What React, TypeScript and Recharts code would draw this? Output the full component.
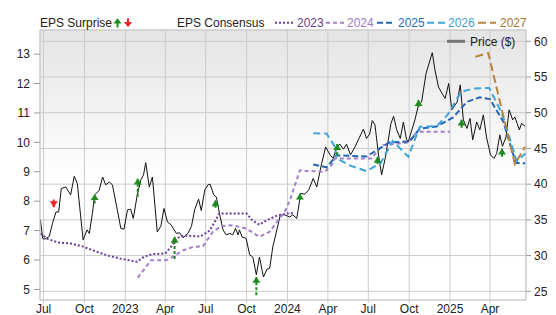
import {
  CartesianGrid,
  ComposedChart,
  Line,
  ReferenceLine,
  Scatter,
  XAxis,
  YAxis,
} from "recharts";

type Pt = [string, number];

// weekly-ish close price ($), right axis
const price: Pt[] = [
  ["2022-06-24", 35.0], ["2022-06-29", 32.4], ["2022-07-04", 32.3], ["2022-07-14", 32.7],
  ["2022-07-21", 34.5], ["2022-07-29", 36.1], ["2022-08-04", 36.1], ["2022-08-10", 39.4],
  ["2022-08-20", 39.6], ["2022-08-31", 38.5], ["2022-09-08", 41.1], ["2022-09-15", 40.1],
  ["2022-09-28", 32.2], ["2022-10-07", 33.6], ["2022-10-12", 33.1], ["2022-10-19", 35.9],
  ["2022-10-24", 38.5], ["2022-11-03", 39.1], ["2022-11-11", 41.0], ["2022-11-18", 39.9],
  ["2022-11-26", 40.3], ["2022-12-03", 39.9], ["2022-12-14", 36.4], ["2022-12-22", 33.8],
  ["2022-12-29", 33.7], ["2023-01-06", 36.4], ["2023-01-13", 36.5], ["2023-01-19", 35.2],
  ["2023-01-28", 38.5], ["2023-02-05", 40.6], ["2023-02-11", 41.3], ["2023-02-16", 43.0],
  ["2023-02-24", 39.6], ["2023-03-03", 41.0], ["2023-03-14", 33.3], ["2023-03-22", 34.1],
  ["2023-03-29", 36.6], ["2023-04-06", 34.7], ["2023-04-14", 34.3], ["2023-04-26", 33.1],
  ["2023-05-03", 33.2], ["2023-05-11", 32.5], ["2023-05-22", 33.1], ["2023-05-30", 34.1],
  ["2023-06-06", 36.4], ["2023-06-15", 37.9], ["2023-06-21", 36.3], ["2023-06-29", 39.2],
  ["2023-07-06", 39.9], ["2023-07-11", 40.0], ["2023-07-19", 38.5], ["2023-07-25", 38.2],
  ["2023-08-01", 35.9], ["2023-08-09", 33.6], ["2023-08-16", 32.9], ["2023-08-24", 33.1],
  ["2023-08-31", 32.9], ["2023-09-06", 33.8], ["2023-09-12", 32.9], ["2023-09-15", 33.6],
  ["2023-09-21", 32.6], ["2023-09-30", 32.4], ["2023-10-08", 30.1], ["2023-10-15", 29.8],
  ["2023-10-23", 27.3], ["2023-10-30", 29.8], ["2023-11-08", 27.0], ["2023-11-16", 28.1],
  ["2023-11-22", 28.2], ["2023-11-29", 31.2], ["2023-12-07", 33.3], ["2023-12-16", 35.7],
  ["2023-12-26", 35.7], ["2024-01-06", 35.4], ["2024-01-13", 35.7], ["2024-01-22", 35.2],
  ["2024-01-31", 38.7], ["2024-02-09", 38.6], ["2024-02-18", 39.2], ["2024-02-28", 40.8],
  ["2024-03-07", 39.6], ["2024-03-18", 42.9], ["2024-03-27", 45.2], ["2024-04-06", 44.1],
  ["2024-04-13", 43.6], ["2024-04-21", 45.2], ["2024-04-28", 45.6], ["2024-05-06", 44.9],
  ["2024-05-13", 45.6], ["2024-05-22", 44.1], ["2024-06-01", 45.2], ["2024-06-10", 46.4],
  ["2024-06-20", 47.7], ["2024-06-27", 46.4], ["2024-07-04", 47.0], ["2024-07-10", 48.9],
  ["2024-07-16", 48.3], ["2024-07-24", 44.1], ["2024-07-31", 41.3], ["2024-08-08", 43.6],
  ["2024-08-15", 46.2], ["2024-08-21", 48.5], ["2024-08-27", 49.5], ["2024-09-03", 47.6],
  ["2024-09-11", 46.4], ["2024-09-18", 48.7], ["2024-09-25", 46.3], ["2024-09-29", 45.9],
  ["2024-10-07", 47.6], ["2024-10-14", 49.0], ["2024-10-22", 51.1], ["2024-10-29", 51.5],
  ["2024-11-08", 55.5], ["2024-11-22", 58.4], ["2024-11-28", 56.0], ["2024-12-06", 53.6],
  ["2024-12-14", 52.7], ["2024-12-21", 52.0], ["2024-12-29", 54.1], ["2025-01-05", 50.4],
  ["2025-01-17", 51.5], ["2025-01-24", 53.9], ["2025-01-31", 49.0], ["2025-02-08", 47.8],
  ["2025-02-15", 49.2], ["2025-02-21", 46.2], ["2025-03-02", 48.7], ["2025-03-09", 47.6],
  ["2025-03-17", 49.7], ["2025-03-24", 46.6], ["2025-04-02", 44.1], ["2025-04-10", 43.6],
  ["2025-04-16", 44.3], ["2025-04-23", 46.9], ["2025-04-29", 45.3], ["2025-05-07", 46.6],
  ["2025-05-14", 50.4], ["2025-05-22", 49.0], ["2025-05-27", 49.4], ["2025-06-01", 48.5],
  ["2025-06-06", 47.6], ["2025-06-11", 48.5], ["2025-06-19", 48.1],
];

// EPS consensus by fiscal year, left axis
const eps2023: Pt[] = [
  ["2022-06-24", 6.9], ["2022-07-10", 6.72], ["2022-08-01", 6.6], ["2022-09-01", 6.56],
  ["2022-09-25", 6.47], ["2022-10-20", 6.33], ["2022-11-20", 6.16], ["2022-12-20", 6.05],
  ["2023-01-10", 5.99], ["2023-01-28", 5.94], ["2023-02-12", 6.11], ["2023-03-03", 6.2],
  ["2023-04-01", 6.22], ["2023-04-14", 6.45], ["2023-04-28", 6.75], ["2023-05-15", 6.83],
  ["2023-06-19", 6.8], ["2023-07-10", 7.0], ["2023-08-01", 7.58], ["2023-10-01", 7.58],
  ["2023-10-14", 7.35], ["2023-10-30", 7.2], ["2023-11-15", 7.35], ["2023-12-07", 7.5],
  ["2023-12-30", 7.58], ["2024-01-15", 7.6],
];

const eps2024: Pt[] = [
  ["2023-01-29", 5.4], ["2023-02-28", 5.99], ["2023-04-03", 5.99], ["2023-04-18", 6.11],
  ["2023-05-11", 6.33], ["2023-06-02", 6.44], ["2023-06-25", 6.47], ["2023-07-17", 6.96],
  ["2023-08-05", 7.15], ["2023-08-31", 7.18], ["2023-09-30", 7.07], ["2023-10-30", 6.79],
  ["2023-11-22", 6.96], ["2023-12-11", 7.35], ["2023-12-26", 7.64], ["2024-01-07", 8.05],
  ["2024-01-29", 9.05], ["2024-02-13", 9.03], ["2024-03-25", 9.0], ["2024-04-09", 9.22],
  ["2024-04-17", 9.45], ["2024-07-08", 9.45], ["2024-07-23", 9.73], ["2024-08-03", 9.9],
  ["2024-09-07", 9.96], ["2024-09-29", 10.0], ["2024-10-19", 10.36], ["2025-01-01", 10.36],
];

const eps2025: Pt[] = [
  ["2024-02-28", 9.25], ["2024-03-29", 9.15], ["2024-04-21", 9.56], ["2024-06-27", 9.52],
  ["2024-07-25", 9.78], ["2024-08-18", 10.0], ["2024-10-02", 10.03], ["2024-10-25", 10.47],
  ["2024-12-02", 10.54], ["2025-01-08", 10.85], ["2025-02-08", 11.38], ["2025-03-09", 11.53],
  ["2025-04-01", 11.47], ["2025-05-01", 10.7], ["2025-05-23", 9.6], ["2025-05-31", 9.3],
  ["2025-06-19", 9.29],
];

const eps2026: Pt[] = [
  ["2024-02-28", 10.31], ["2024-03-29", 10.3], ["2024-04-17", 9.85], ["2024-04-21", 9.45],
  ["2024-05-23", 9.2], ["2024-06-27", 9.02], ["2024-07-29", 9.3], ["2024-08-25", 10.05],
  ["2024-09-29", 9.51], ["2024-10-25", 10.53], ["2024-12-02", 10.55], ["2024-12-27", 10.95],
  ["2025-01-26", 11.72], ["2025-02-23", 11.83], ["2025-03-30", 11.85], ["2025-04-28", 10.98],
  ["2025-05-31", 9.36], ["2025-06-20", 9.62],
];

const eps2027: Pt[] = [
  ["2025-02-27", 12.91], ["2025-03-28", 13.04], ["2025-05-27", 9.26], ["2025-06-19", 9.85],
];

// report date, consensus before report, reported EPS
const surprises: [string, number, number][] = [
  ["2022-07-24", 8.06, 7.79],
  ["2022-10-24", 7.92, 8.24],
  ["2023-01-29", 8.15, 8.77],
  ["2023-04-22", 6.03, 6.79],
  ["2023-07-23", 7.78, 8.03],
  ["2023-10-23", 4.8, 5.43],
  ["2024-01-29", 8.06, 8.26],
  ["2024-04-22", 9.56, 9.94],
  ["2024-07-22", 9.26, 9.51],
  ["2024-10-22", 11.21, 11.44],
  ["2025-01-27", 10.5, 10.78],
  ["2025-04-28", 9.51, 9.79],
];

const quarterTicks = [
  "2022-07-01", "2022-10-01", "2023-01-01", "2023-04-01", "2023-07-01", "2023-10-01",
  "2024-01-01", "2024-04-01", "2024-07-01", "2024-10-01", "2025-01-01", "2025-04-01",
];
const epsTicks = [5, 6, 7, 8, 9, 10, 11, 12, 13];
const priceTicks = [25, 30, 35, 40, 45, 50, 55, 60];

const months = ["Jan", "Feb", "Mar", "Apr", "May", "Jun", "Jul", "Aug", "Sep", "Oct", "Nov", "Dec"];

const X_DOMAIN = [Date.parse("2022-06-23"), Date.parse("2025-06-21")];
const EPS_DOMAIN = [4.64, 13.82];
const PRICE_DOMAIN = [23.78, 61.58];

const FONT = "'Liberation Sans', Arial, sans-serif";
const GRID = "#cbcbcb";
const UP = "#1f8a1f";
const DOWN = "#ee2222";

const consensus = [
  { name: "2023", pts: eps2023, color: "#6a3d9a", label: "#6a3d8e", dash: "2 2" },
  { name: "2024", pts: eps2024, color: "#a67fca", label: "#a07cc0", dash: "4 3" },
  { name: "2025", pts: eps2025, color: "#2366b4", label: "#2e6db0", dash: "6 3" },
  { name: "2026", pts: eps2026, color: "#3fa4d9", label: "#3f9ed0", dash: "7 4" },
  { name: "2027", pts: eps2027, color: "#b8843c", label: "#a87830", dash: "8 4" },
];

const rows = (pts: Pt[]) => pts.map(([d, v]) => ({ t: Date.parse(d), v }));

const fmtTick = (t: number) => {
  const d = new Date(t);
  return d.getUTCMonth() === 0 ? String(d.getUTCFullYear()) : months[d.getUTCMonth()];
};

const ArrowHead = (props: any) => {
  const { cx, cy } = props;
  const miss = props.payload?.miss ?? props.miss;
  if (cx == null || cy == null) return null;
  const s = miss ? -1 : 1;
  return (
    <polygon
      points={`${cx - 4},${cy + 6 * s} ${cx},${cy} ${cx + 4},${cy + 6 * s}`}
      fill={miss ? DOWN : UP}
    />
  );
};

const tickStyle = { fontSize: 12, fill: "#222", fontFamily: FONT };

export default function App() {
  const surpriseRows = surprises.map(([d, est, act]) => ({
    t: Date.parse(d),
    v: act,
    miss: act < est,
  }));

  return (
    <div style={{ position: "absolute", left: 0, top: 0, width: 556, height: 315 }}>
      <ComposedChart width={556} height={315} margin={{ top: 30, right: 0, bottom: 0, left: 0 }}>
        <defs>
          <linearGradient id="plotBg" x1="0" y1="0" x2="0" y2="1">
            <stop offset="0%" stopColor="#e4e4e4" />
            <stop offset="55%" stopColor="#ffffff" />
            <stop offset="100%" stopColor="#ffffff" />
          </linearGradient>
        </defs>
        <CartesianGrid yAxisId="price" stroke={GRID} fill="url(#plotBg)" fillOpacity={1} />
        <XAxis
          dataKey="t"
          type="number"
          domain={X_DOMAIN}
          ticks={quarterTicks.map((d) => Date.parse(d))}
          tickFormatter={fmtTick}
          interval={0}
          allowDataOverflow
          height={15}
          tickSize={3}
          tickMargin={1}
          tick={tickStyle}
          axisLine={{ stroke: GRID }}
          tickLine={{ stroke: GRID }}
        />
        <YAxis
          yAxisId="eps"
          orientation="left"
          width={40}
          domain={EPS_DOMAIN}
          ticks={epsTicks}
          allowDataOverflow
          tickSize={6}
          tickMargin={4}
          tick={tickStyle}
          axisLine={{ stroke: GRID }}
          tickLine={{ stroke: "#999" }}
        />
        <YAxis
          yAxisId="price"
          orientation="right"
          width={30}
          domain={PRICE_DOMAIN}
          ticks={priceTicks}
          allowDataOverflow
          tickSize={5}
          tickMargin={3}
          tick={tickStyle}
          axisLine={{ stroke: GRID }}
          tickLine={{ stroke: "#999" }}
        />
        <ReferenceLine yAxisId="price" y={PRICE_DOMAIN[1]} stroke={GRID} />

        <Line
          data={rows(price)}
          dataKey="v"
          yAxisId="price"
          type="linear"
          stroke="#111"
          strokeWidth={1}
          dot={false}
          activeDot={false}
          isAnimationActive={false}
        />
        {consensus.map((c) => (
          <Line
            key={c.name}
            data={rows(c.pts)}
            dataKey="v"
            yAxisId="eps"
            type="linear"
            stroke={c.color}
            strokeWidth={2}
            strokeDasharray={c.dash}
            dot={false}
            activeDot={false}
            isAnimationActive={false}
          />
        ))}
        {surprises.map(([d, est, act]) => (
          <Line
            key={d}
            data={[
              { t: Date.parse(d), v: est },
              { t: Date.parse(d), v: act },
            ]}
            dataKey="v"
            yAxisId="eps"
            stroke={act < est ? DOWN : UP}
            strokeWidth={2}
            strokeDasharray="3 2"
            dot={false}
            activeDot={false}
            isAnimationActive={false}
          />
        ))}
        <Scatter
          data={surpriseRows}
          dataKey="v"
          yAxisId="eps"
          shape={ArrowHead}
          isAnimationActive={false}
        />
      </ComposedChart>

      <svg
        width={556}
        height={315}
        style={{ position: "absolute", left: 0, top: 0, pointerEvents: "none" }}
        fontFamily={FONT}
        fontSize={12}
      >
        <text x={40} y={27} fill="#222">EPS Surprise</text>
        <polygon points="113.5,23.5 117.5,18.3 121.5,23.5" fill={UP} />
        <rect x={116.5} y={23} width={2} height={4.5} fill={UP} />
        <rect x={127} y={18.3} width={2} height={4.5} fill={DOWN} />
        <polygon points="124,22 128,27.3 132,22" fill={DOWN} />

        <text x={177} y={27} fill="#222">EPS Consensus</text>
        {consensus.map((c, i) => {
          const x0 = [275, 326, 377, 427, 478][i];
          const tx = [297, 347, 398, 448, 500][i];
          return (
            <g key={c.name}>
              <line x1={x0} y1={22.7} x2={x0 + 18} y2={22.7} stroke={c.color} strokeWidth={2} strokeDasharray={c.dash} />
              <text x={tx} y={27} fill={c.label}>{c.name}</text>
            </g>
          );
        })}

        <line x1={447} y1={41.3} x2={465} y2={41.3} stroke="#777" strokeWidth={3} />
        <text x={470} y={45.5} fill="#222">Price ($)</text>
      </svg>
    </div>
  );
}
